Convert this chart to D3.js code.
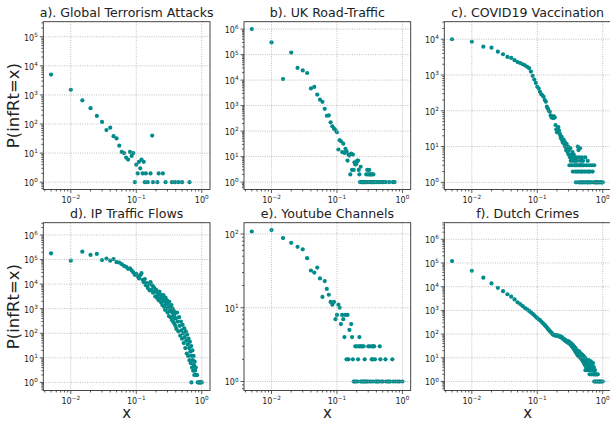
<!DOCTYPE html>
<html>
<head>
<meta charset="utf-8">
<script src="https://cdn.jsdelivr.net/npm/d3@7"></script>
<style>
  body { margin: 0; background: #fff; }
  svg text { font-family: "DejaVu Sans", sans-serif; fill: #222; }
</style>
</head>
<body>
<div id="chart"></div>
<script>
// panel titles, in grid order
let panelTitles = ['a). Global Terrorism Attacks', 'b). UK Road-Traffic', 'c). COVID19 Vaccination',
  'd). IP Traffic Flows', 'e). Youtube Channels', 'f). Dutch Crimes']

// [x, P(infRt=x)]
let terrorPoints = [[0.005,5000],[0.01,1500],[0.015,650],[0.02,350],[0.025,190],[0.03,118],[0.035,62],[0.04,75],
  [0.045,38],[0.05,32],[0.055,18],[0.06,11],[0.065,10],[0.07,7],[0.075,6],[0.08,11],[0.085,8],[0.09,10],[0.095,1],
  [0.1,4],[0.105,2],[0.11,5],[0.115,3],[0.12,6],[0.125,2],[0.13,5],[0.135,1],[0.14,2],[0.15,1],[0.165,2],[0.175,40],
  [0.18,1],[0.21,1],[0.22,2],[0.255,2],[0.28,1],[0.35,1],[0.39,1],[0.44,1],[0.5,1],[0.65,1]]

let roadPoints = [[0.005,1e6],[0.01,3e5],[0.015,1.1e4],[0.02,1.2e5],[0.025,3e4],[0.03,2.4e4],[0.035,1.9e4],[0.04,4.7e3],
  [0.045,5.4e3],[0.05,2.7e3],[0.055,1.7e3],[0.06,1.4e3],[0.065,750],[0.07,400],[0.075,410],[0.08,220],[0.085,155],
  [0.09,125],[0.095,110],[0.1,90],[0.105,19],[0.11,44],[0.115,40],[0.12,15],[0.125,32],[0.13,14],[0.135,20],[0.14,16],
  [0.145,7],[0.15,12],[0.155,11],[0.16,2],[0.165,13],[0.17,3],[0.175,12],[0.18,3],[0.185,6],[0.19,5],[0.195,5],[0.2,6],
  [0.205,7],[0.21,7],[0.215,3],[0.22,2],[0.225,1],[0.23,4],[0.235,1],[0.24,1],[0.245,1],[0.25,1],[0.255,1],[0.26,1],
  [0.265,1],[0.27,1],[0.275,1],[0.28,2],[0.285,1],[0.29,3],[0.295,1],[0.3,2],[0.305,1],[0.31,3],[0.315,2],[0.32,1],
  [0.325,1],[0.33,2],[0.335,1],[0.34,2],[0.345,1],[0.35,1],[0.36,2],[0.365,1],[0.37,1],[0.38,1],[0.39,1],[0.4,1],
  [0.42,1],[0.43,1],[0.45,1],[0.47,1],[0.5,1],[0.52,1],[0.56,1],[0.63,1],[0.71,1],[0.76,1]]

let covidPoints = [[0.005,1e4],[0.01,8500],[0.015,6200],[0.02,5800],[0.025,4500],[0.03,3800],[0.035,3200],[0.04,3000],
  [0.045,2600],[0.05,2300],[0.055,2150],[0.06,2000],[0.065,1850],[0.07,1700],[0.075,1550],[0.08,1250],[0.085,950],
  [0.09,750],[0.095,600],[0.1,470],[0.105,420],[0.11,340],[0.115,290],[0.12,270],[0.125,245],[0.13,200],[0.135,180],
  [0.14,130],[0.145,115],[0.15,100],[0.155,95],[0.16,75],[0.165,65],[0.17,70],[0.175,62],[0.18,70],[0.185,65],
  [0.19,40],[0.195,30],[0.2,25],[0.205,32],[0.21,35],[0.215,28],[0.22,23],[0.225,20],[0.23,17],[0.235,19],[0.24,15],
  [0.245,13],[0.25,16],[0.255,12],[0.26,14],[0.265,10],[0.27,11],[0.275,8],[0.28,12],[0.285,9],[0.29,7],[0.295,10],
  [0.3,6],[0.305,8],[0.31,3],[0.315,5],[0.32,9],[0.325,4],[0.33,6],[0.335,3],[0.34,5],[0.345,7],[0.35,2],[0.355,4],
  [0.36,6],[0.365,3],[0.37,5],[0.375,4],[0.38,3],[0.385,2],[0.39,1],[0.395,5],[0.4,3],[0.405,4],[0.41,2],[0.415,10],
  [0.42,3],[0.425,8],[0.43,1],[0.435,5],[0.44,2],[0.445,3],[0.45,9],[0.455,1],[0.46,4],[0.465,3],[0.47,2],[0.475,1],
  [0.48,5],[0.485,3],[0.49,2],[0.495,1],[0.5,4],[0.51,3],[0.52,1],[0.53,2],[0.54,5],[0.55,1],[0.56,3],[0.57,2],
  [0.58,1],[0.59,4],[0.6,1],[0.61,2],[0.62,3],[0.63,1],[0.64,2],[0.66,1],[0.68,3],[0.7,2],[0.72,1],[0.74,3],[0.76,1],
  [0.78,1],[0.8,1],[0.83,1],[0.86,1],[0.9,1],[0.94,1],[0.97,1],[1.0,1]]

let ipPoints = [[0.005,1.8e5],[0.01,9e4],[0.015,2.1e5],[0.02,1.55e5],[0.025,1.7e5],[0.03,9.5e4],[0.035,1.1e5],[0.04,9e4],
  [0.045,1.05e5],[0.05,7.8e4],[0.055,7.5e4],[0.06,6.5e4],[0.065,5.5e4],[0.07,5e4],[0.075,4.2e4],[0.08,4.4e4],
  [0.085,3.6e4],[0.09,3e4],[0.095,2.4e4],[0.1,2.6e4],[0.105,2.1e4],[0.11,1.7e4],[0.115,2.3e4],[0.12,2.8e4],
  [0.125,1.5e4],[0.13,1.2e4],[0.135,1.6e4],[0.14,9e3],[0.145,1.1e4],[0.15,7e3],[0.155,1e4],[0.16,5.5e3],
  [0.165,1.2e4],[0.17,6e3],[0.175,9e3],[0.18,4.5e3],[0.185,7.5e3],[0.19,5e3],[0.195,3.2e3],[0.2,6e3],[0.205,2.8e3],
  [0.21,4.5e3],[0.215,3.5e3],[0.22,2.2e3],[0.225,5e3],[0.23,2.6e3],[0.235,3.8e3],[0.24,1.8e3],[0.245,3e3],
  [0.25,1.4e3],[0.255,2.5e3],[0.26,3.6e3],[0.265,1.2e3],[0.27,2e3],[0.275,900],[0.28,2.8e3],[0.285,1.5e3],
  [0.29,1e3],[0.295,2.2e3],[0.3,700],[0.305,1.6e3],[0.31,1.1e3],[0.315,500],[0.32,1.9e3],[0.325,800],[0.33,1.2e3],
  [0.335,450],[0.34,950],[0.345,1.4e3],[0.35,350],[0.355,700],[0.36,1e3],[0.365,300],[0.37,550],[0.375,800],
  [0.38,250],[0.385,450],[0.39,650],[0.395,200],[0.4,400],[0.41,150],[0.42,700],[0.43,300],[0.44,120],[0.45,450],
  [0.46,200],[0.47,80],[0.48,300],[0.49,130],[0.5,60],[0.51,220],[0.52,100],[0.53,40],[0.54,160],[0.55,70],
  [0.56,25],[0.57,120],[0.58,50],[0.59,15],[0.6,90],[0.61,35],[0.62,12],[0.63,60],[0.64,25],[0.65,8],[0.66,45],
  [0.67,18],[0.68,6],[0.69,30],[0.695,1],[0.7,12],[0.71,4],[0.72,20],[0.73,8],[0.74,3],[0.75,12],[0.76,5],[0.77,2],
  [0.78,7],[0.79,3],[0.8,2],[0.81,4],[0.83,2],[0.85,2],[0.87,1],[0.9,1],[0.92,1],[0.95,1],[0.97,1],[1.0,1]]

let youtubePoints = [[0.005,108],[0.01,113],[0.015,88],[0.02,76],[0.025,67],[0.03,62],[0.035,47],[0.04,32],[0.045,30],
  [0.05,35],[0.055,25],[0.06,14],[0.065,23],[0.07,18],[0.075,15],[0.08,12],[0.085,11],[0.09,12],[0.095,7],[0.1,8],
  [0.105,11],[0.11,10],[0.115,6],[0.12,8],[0.125,7],[0.13,4],[0.135,8],[0.14,2],[0.145,8],[0.15,2],[0.155,5],
  [0.165,6],[0.17,4],[0.175,2],[0.18,1],[0.185,1],[0.19,3],[0.195,1],[0.2,3],[0.205,1],[0.21,2],[0.215,3],[0.22,4],
  [0.225,3],[0.23,1],[0.235,3],[0.24,1],[0.245,3],[0.25,1],[0.255,3],[0.26,1],[0.265,2],[0.27,1],[0.28,1],[0.29,1],
  [0.3,3],[0.31,1],[0.32,3],[0.33,1],[0.34,2],[0.345,3],[0.35,2],[0.355,1],[0.36,3],[0.37,3],[0.38,2],[0.39,1],
  [0.4,1],[0.42,1],[0.44,1],[0.45,3],[0.46,2],[0.48,1],[0.5,1],[0.55,2],[0.56,1],[0.6,1],[0.62,1],[0.65,1],[0.7,2],
  [0.72,1],[0.78,1],[0.85,1],[0.9,1],[1.0,1]]

let crimePoints = [[0.005,1.2e5],[0.01,4.7e4],[0.015,2.4e4],[0.02,1.37e4],[0.025,9e3],[0.03,6.5e3],[0.035,4.8e3],
  [0.04,3.8e3],[0.045,2.9e3],[0.05,2.2e3],[0.055,1.85e3],[0.06,1.5e3],[0.065,1.25e3],[0.07,1.1e3],[0.075,950],
  [0.08,820],[0.085,720],[0.09,620],[0.095,540],[0.1,470],[0.105,420],[0.11,390],[0.115,340],[0.12,300],[0.125,270],
  [0.13,240],[0.135,215],[0.14,190],[0.145,170],[0.15,150],[0.155,135],[0.16,125],[0.165,112],[0.17,102],[0.175,95],
  [0.18,92],[0.185,88],[0.19,90],[0.195,86],[0.2,88],[0.205,84],[0.21,86],[0.215,80],[0.22,82],[0.225,76],[0.23,78],
  [0.235,70],[0.24,72],[0.245,66],[0.25,62],[0.255,60],[0.26,56],[0.265,58],[0.27,52],[0.275,50],[0.28,48],
  [0.285,52],[0.29,45],[0.295,50],[0.3,42],[0.305,48],[0.31,40],[0.315,44],[0.32,36],[0.325,42],[0.33,33],[0.335,38],
  [0.34,30],[0.345,36],[0.35,27],[0.355,32],[0.36,24],[0.365,30],[0.37,22],[0.375,27],[0.38,19],[0.385,25],[0.39,17],
  [0.395,22],[0.4,15],[0.405,20],[0.41,13],[0.415,18],[0.42,16],[0.425,12],[0.43,19],[0.435,14],[0.44,11],[0.445,17],
  [0.45,13],[0.455,10],[0.46,15],[0.465,12],[0.47,9],[0.475,14],[0.48,11],[0.485,8],[0.49,13],[0.495,10],[0.5,7],
  [0.505,12],[0.51,9],[0.515,6],[0.52,11],[0.525,8],[0.53,5],[0.535,10],[0.54,7],[0.545,3],[0.55,9],[0.555,6],
  [0.56,4],[0.565,8],[0.57,5],[0.575,3],[0.58,7],[0.585,4],[0.59,6],[0.595,3],[0.6,5],[0.61,8],[0.62,4],[0.63,2],
  [0.64,6],[0.65,3],[0.66,7],[0.67,4],[0.68,2],[0.69,5],[0.7,3],[0.71,6],[0.72,2],[0.73,4],[0.74,1],[0.75,2],[0.76,3],
  [0.77,1],[0.78,2],[0.79,1],[0.8,2],[0.82,1],[0.84,2],[0.86,1],[0.88,1],[0.9,1],[0.93,1],[0.96,1],[1.0,1]]

let panelPoints = [terrorPoints, roadPoints, covidPoints, ipPoints, youtubePoints, crimePoints]

// visible y range of each panel, as log10 exponents
let yLogRanges = [[-0.252, 5.517], [-0.29, 6.29], [-0.2, 4.49], [-0.33, 6.5], [-0.122, 2.153], [-0.38, 6.7]]
let xLogRange = [-2.42, 0.126]

let yLabel = 'P(infRt=x)'
let xLabel = 'x'

let colX = [43.3, 244, 444.3]
let rowY = [21.7, 222.7]
let plotW = 166.7
let plotH = 167.8
let dotColor = '#008b8b'

let svg = d3.select('#chart')
  .append('svg')
    .attr('width', 610)
    .attr('height', 421)

function supLabel(sel, k) {
  let exp = k < 0 ? '\u2212' + Math.abs(k) : '' + k
  sel.append('tspan').attr('font-size', 8).text('10')
  sel.append('tspan').attr('font-size', 5.7).attr('dy', -3.8).text(exp)
}

function drawPanel(i) {
  let col = i % 3
  let row = Math.floor(i / 3)
  let g = svg.append('g').attr('transform', `translate(${colX[col]}, ${rowY[row]})`)

  let xScale = d3.scaleLog().domain(xLogRange.map(d => Math.pow(10, d))).range([0, plotW])
  let yScale = d3.scaleLog().domain(yLogRanges[i].map(d => Math.pow(10, d))).range([plotH, 0])

  // major and minor tick values
  let xMajor = [], xMinor = [], yMajor = [], yMinor = []
  for (let k = Math.floor(xLogRange[0]); k <= Math.ceil(xLogRange[1]); k++) {
    if (k >= xLogRange[0] && k <= xLogRange[1]) xMajor.push(k)
    for (let m = 2; m < 10; m++) {
      let v = Math.log10(m) + k
      if (v >= xLogRange[0] && v <= xLogRange[1]) xMinor.push(m * Math.pow(10, k))
    }
  }
  let yr = yLogRanges[i]
  for (let k = Math.floor(yr[0]); k <= Math.ceil(yr[1]); k++) {
    if (k >= yr[0] && k <= yr[1]) yMajor.push(k)
    for (let m = 2; m < 10; m++) {
      let v = Math.log10(m) + k
      if (v >= yr[0] && v <= yr[1]) yMinor.push(m * Math.pow(10, k))
    }
  }

  // points
  g.append('g').selectAll('circle')
    .data(panelPoints[i])
    .enter().append('circle')
      .attr('cx', d => xScale(d[0]))
      .attr('cy', d => yScale(d[1]))
      .attr('r', 2.1)
      .attr('fill', dotColor)

  // dotted grid on major ticks
  let grid = g.append('g')
    .attr('stroke', '#a8a8a8')
    .attr('stroke-width', 0.8)
    .attr('stroke-dasharray', '0.9,1.4')
  grid.selectAll('.gx').data(xMajor).enter().append('line')
    .attr('x1', k => xScale(Math.pow(10, k))).attr('x2', k => xScale(Math.pow(10, k)))
    .attr('y1', 0).attr('y2', plotH)
  grid.selectAll('.gy').data(yMajor).enter().append('line')
    .attr('y1', k => yScale(Math.pow(10, k))).attr('y2', k => yScale(Math.pow(10, k)))
    .attr('x1', 0).attr('x2', plotW)

  // frame
  g.append('rect')
    .attr('width', plotW)
    .attr('height', plotH)
    .attr('fill', 'none')
    .attr('stroke', '#333')
    .attr('stroke-width', 0.9)

  // ticks
  let ticks = g.append('g').attr('stroke', '#333').attr('stroke-width', 0.8)
  ticks.selectAll('.tx').data(xMajor).enter().append('line')
    .attr('x1', k => xScale(Math.pow(10, k))).attr('x2', k => xScale(Math.pow(10, k)))
    .attr('y1', plotH).attr('y2', plotH + 3.5)
  ticks.selectAll('.mx').data(xMinor).enter().append('line')
    .attr('x1', d => xScale(d)).attr('x2', d => xScale(d))
    .attr('y1', plotH).attr('y2', plotH + 2)
  ticks.selectAll('.ty').data(yMajor).enter().append('line')
    .attr('y1', k => yScale(Math.pow(10, k))).attr('y2', k => yScale(Math.pow(10, k)))
    .attr('x1', 0).attr('x2', -3.5)
  ticks.selectAll('.my').data(yMinor).enter().append('line')
    .attr('y1', d => yScale(d)).attr('y2', d => yScale(d))
    .attr('x1', 0).attr('x2', -2)

  // tick labels
  for (let k of xMajor) {
    let t = g.append('text')
      .attr('x', xScale(Math.pow(10, k)))
      .attr('y', plotH + 13.3)
      .attr('text-anchor', 'middle')
    supLabel(t, k)
  }
  for (let k of yMajor) {
    let t = g.append('text')
      .attr('x', -5.5)
      .attr('y', yScale(Math.pow(10, k)) + 3.9)
      .attr('text-anchor', 'end')
    supLabel(t, k)
  }

  // title
  g.append('text')
    .attr('x', plotW / 2)
    .attr('y', -5)
    .attr('text-anchor', 'middle')
    .attr('font-size', 12.6)
    .text(panelTitles[i])

  if (col === 0) {
    g.append('text')
      .attr('transform', `translate(${19 - colX[0]}, ${plotH / 2}) rotate(-90)`)
      .attr('text-anchor', 'middle')
      .attr('font-size', 16.5)
      .text(yLabel)
  }
  if (row === 1) {
    g.append('text')
      .attr('x', plotW / 2)
      .attr('y', plotH + 28)
      .attr('text-anchor', 'middle')
      .attr('font-size', 15)
      .text(xLabel)
  }
}

for (let i = 0; i < 6; i++) drawPanel(i)
</script>
</body>
</html>
